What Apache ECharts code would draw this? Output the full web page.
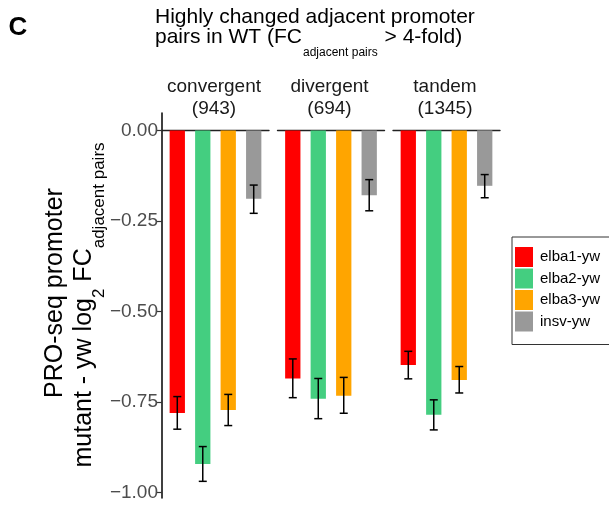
<!DOCTYPE html>
<html><head><meta charset="utf-8">
<script src="https://cdn.jsdelivr.net/npm/echarts@6/dist/echarts.min.js"></script>
<style>html,body{margin:0;padding:0;background:#fff}#c{width:609px;height:506px}</style>
</head><body><div id="c"></div>
<script>
// ---- data ----
const categories = ['convergent', 'divergent', 'tandem'];
const counts = ['(943)', '(694)', '(1345)'];
const genotypes = ['elba1-yw', 'elba2-yw', 'elba3-yw', 'insv-yw'];
const meanElba1 = [-0.780, -0.685, -0.648];
const meanElba2 = [-0.921, -0.741, -0.785];
const meanElba3 = [-0.772, -0.733, -0.689];
const meanInsv  = [-0.189, -0.179, -0.153];
const lowElba1 = [-0.825, -0.738, -0.686];
const highElba1 = [-0.735, -0.631, -0.610];
const lowElba2 = [-0.969, -0.796, -0.827];
const highElba2 = [-0.873, -0.685, -0.744];
const lowElba3 = [-0.815, -0.781, -0.725];
const highElba3 = [-0.729, -0.682, -0.652];
const lowInsv = [-0.229, -0.222, -0.186];
const highInsv = [-0.151, -0.136, -0.122];
const yTicks = [0, -0.25, -0.5, -0.75, -1];

// ---- styling / layout ----
const colors = ['#FF0000', '#44CE80', '#FFA500', '#999999'];
const FONT = '"Liberation Sans", Arial, Helvetica, sans-serif';
const means = [meanElba1, meanElba2, meanElba3, meanInsv];
const lows = [lowElba1, lowElba2, lowElba3, lowInsv];
const highs = [highElba1, highElba2, highElba3, highInsv];
const gridLefts = [162, 277.5, 393];
const gridW = 107, gridTop = 113, gridH = 385;

const chart = echarts.init(document.getElementById('c'), null, {renderer: 'canvas'});

const grids = gridLefts.map(l => ({left: l, top: gridTop, width: gridW, height: gridH, containLabel: false, outerBoundsMode: 'none'}));
const xAxes = gridLefts.map((l, i) => ({
  type: 'value', gridIndex: i, min: 0.4, max: 4.6,
  axisLabel: {show: false}, axisTick: {show: false}, splitLine: {show: false},
  axisLine: {show: true, onZero: true, lineStyle: {color: '#222', width: 1.4}}
}));
const yAxes = gridLefts.map((l, i) => ({
  type: 'value', gridIndex: i, min: -1.015, max: 0.048, show: i === 0,
  splitLine: {show: false},
  axisLine: {show: true, onZero: false, lineStyle: {color: '#000', width: 1.5}},
  axisTick: {show: true, length: 5, customValues: yTicks, lineStyle: {color: '#333', width: 1.2}},
  axisLabel: {customValues: yTicks, fontSize: 19, fontFamily: FONT, color: '#4d4d4d', margin: 4,
    formatter: v => v.toFixed(2).replace('-', '\u2212')}
}));

const series = [];
genotypes.forEach((g, gi) => {
  categories.forEach((c, pi) => {
    series.push({
      type: 'bar', name: g, xAxisIndex: pi, yAxisIndex: pi,
      data: [[gi + 1, means[gi][pi]]], barWidth: 15.3, barGap: '-100%',
      itemStyle: {color: colors[gi]}, silent: true
    });
  });
});
categories.forEach((c, pi) => {
  series.push({
    type: 'custom', xAxisIndex: pi, yAxisIndex: pi, silent: true, z: 5,
    encode: {x: 0, y: [1, 2]},
    data: genotypes.map((g, gi) => [gi + 1, lows[gi][pi], highs[gi][pi]]),
    renderItem: (params, api) => {
      const x = api.value(0);
      const a = api.coord([x, api.value(1)]);
      const b = api.coord([x, api.value(2)]);
      const hw = 4;
      const st = {stroke: '#000', lineWidth: 1.5};
      return {type: 'group', children: [
        {type: 'line', shape: {x1: a[0], y1: a[1], x2: b[0], y2: b[1]}, style: st},
        {type: 'line', shape: {x1: a[0] - hw, y1: a[1], x2: a[0] + hw, y2: a[1]}, style: st},
        {type: 'line', shape: {x1: b[0] - hw, y1: b[1], x2: b[0] + hw, y2: b[1]}, style: st}
      ]};
    }
  });
});

const graphics = [
  {type: 'text', style: {text: 'C', x: 18, y: 28, align: 'center', verticalAlign: 'middle',
    fontSize: 26, fontWeight: 'bold', fontFamily: FONT, fill: '#000'}},
  {type: 'text', style: {text: 'Highly changed adjacent promoter', x: 155, y: 17.5, align: 'left', verticalAlign: 'middle',
    fontSize: 21, fontFamily: FONT, fill: '#000'}},
  {type: 'text', style: {text: '{m|pairs in WT (FC}{s|adjacent pairs}{m| > 4-fold)}', x: 155, y: 27, align: 'left', verticalAlign: 'top',
    rich: {m: {fontSize: 21, fontFamily: FONT, fill: '#000', lineHeight: 24, verticalAlign: 'top'},
           s: {fontSize: 12, fontFamily: FONT, fill: '#000', lineHeight: 14, padding: [20, 1, 0, 1], verticalAlign: 'top'}}}},
  {type: 'text', x: 43, y: 293, rotation: Math.PI / 2, style: {text: 'PRO-seq promoter', x: 0, y: 0, align: 'center', verticalAlign: 'top',
    fontSize: 25, fontFamily: FONT, fill: '#000'}},
  {type: 'text', x: 72, y: 305, rotation: Math.PI / 2, style: {text: '{m|mutant - yw log}{s|2}{m| FC}{s|adjacent pairs}', x: 0, y: 0, align: 'center', verticalAlign: 'top',
    rich: {m: {fontSize: 25, fontFamily: FONT, fill: '#000', lineHeight: 28, verticalAlign: 'top'},
           s: {fontSize: 17, fontFamily: FONT, fill: '#000', lineHeight: 18, padding: [19, 0, 0, 0], verticalAlign: 'top'}}}}
];
categories.forEach((c, pi) => {
  const cx = gridLefts[pi] + gridW / 2 - 1.5;
  graphics.push({type: 'text', style: {text: c, x: cx, y: 86.5, align: 'center', verticalAlign: 'middle',
    fontSize: 19, fontFamily: FONT, fill: '#1a1a1a'}});
  graphics.push({type: 'text', style: {text: counts[pi], x: cx, y: 108.5, align: 'center', verticalAlign: 'middle',
    fontSize: 19, fontFamily: FONT, fill: '#1a1a1a'}});
});

chart.setOption({
  animation: false,
  backgroundColor: '#fff',
  grid: grids, xAxis: xAxes, yAxis: yAxes, series: series,
  legend: {data: genotypes, orient: 'vertical', left: 512, top: 237, padding: [10, 20, 13, 3],
    itemGap: 1.5, itemWidth: 18, itemHeight: 20, icon: 'rect', borderColor: '#333', borderWidth: 1,
    textStyle: {fontSize: 15, fontFamily: FONT, color: '#000', padding: [0, 0, 0, 2]}, selectedMode: false},
  graphic: graphics
});
</script></body></html>
